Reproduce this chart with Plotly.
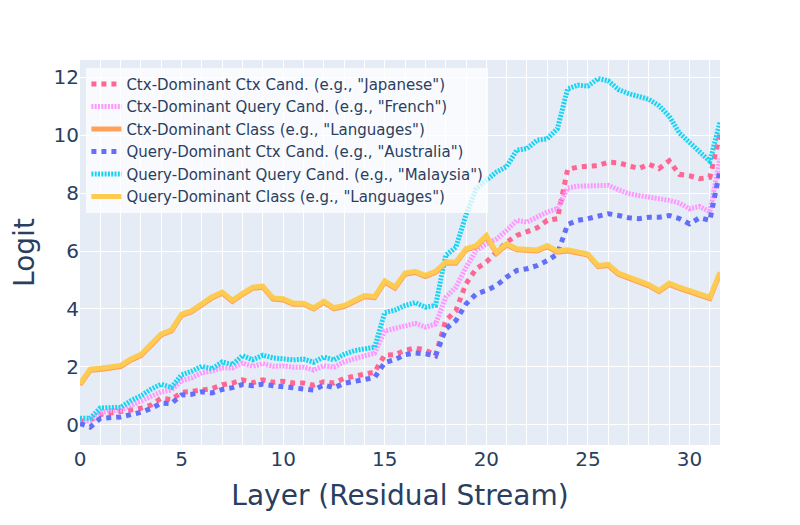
import plotly.graph_objects as go

# Residual stream positions (two per layer)
layers = [i * 0.5 for i in range(64)]

ctx_dom_ctx_cand = [
    0.12, 0.15, 0.35, 0.42, 0.46, 0.51, 0.57, 0.68, 0.92, 0.87,
    1.12, 1.15, 1.21, 1.25, 1.38, 1.44, 1.55, 1.45, 1.55, 1.47,
    1.50, 1.44, 1.44, 1.37, 1.48, 1.44, 1.60, 1.67, 1.71, 1.82,
    2.41, 2.42, 2.57, 2.65, 2.58, 2.39, 3.60, 3.94, 4.87, 5.39,
    5.62, 5.96, 6.31, 6.54, 6.65, 6.80, 7.06, 7.12, 8.82, 8.90,
    8.93, 8.95, 9.07, 9.05, 8.95, 8.85, 9.00, 8.85, 9.12, 8.65,
    8.60, 8.50, 8.55, 10.05,
]
ctx_dom_query_cand = [
    0.12, 0.14, 0.41, 0.49, 0.50, 0.67, 0.81, 0.98, 1.14, 1.20,
    1.52, 1.62, 1.80, 1.85, 1.97, 1.96, 2.13, 2.02, 2.11, 2.02,
    2.03, 1.99, 1.99, 1.89, 2.04, 1.99, 2.17, 2.28, 2.36, 2.47,
    3.24, 3.32, 3.38, 3.50, 3.37, 3.48, 4.40, 4.75, 5.44, 6.02,
    6.25, 6.42, 6.71, 7.06, 7.00, 7.17, 7.35, 7.46, 8.18, 8.24,
    8.24, 8.25, 8.27, 8.12, 7.98, 7.92, 7.87, 7.84, 7.75, 7.66,
    7.46, 7.54, 7.35, 9.20,
]
ctx_dom_class = [
    1.38, 1.88, 1.91, 1.96, 2.01, 2.23, 2.39, 2.75, 3.10, 3.24,
    3.78, 3.90, 4.13, 4.38, 4.54, 4.26, 4.50, 4.71, 4.75, 4.34,
    4.31, 4.16, 4.16, 4.00, 4.23, 4.00, 4.08, 4.25, 4.42, 4.39,
    4.93, 4.72, 5.20, 5.26, 5.12, 5.26, 5.58, 5.58, 6.04, 6.15,
    6.50, 5.92, 6.21, 6.04, 6.00, 6.00, 6.15, 5.96, 6.00, 5.92,
    5.86, 5.46, 5.50, 5.20, 5.08, 4.94, 4.80, 4.60, 4.85, 4.71,
    4.60, 4.48, 4.36, 5.23,
]
query_dom_ctx_cand = [
    0.04, -0.08, 0.22, 0.24, 0.27, 0.35, 0.43, 0.56, 0.75, 0.73,
    1.03, 1.05, 1.14, 1.10, 1.22, 1.28, 1.39, 1.35, 1.40, 1.35,
    1.31, 1.28, 1.26, 1.20, 1.37, 1.28, 1.43, 1.51, 1.58, 1.63,
    2.15, 2.25, 2.42, 2.48, 2.45, 2.38, 3.31, 3.60, 4.17, 4.52,
    4.64, 4.81, 5.10, 5.33, 5.39, 5.50, 5.67, 5.90, 6.92, 7.06,
    7.12, 7.20, 7.29, 7.23, 7.15, 7.12, 7.17, 7.17, 7.23, 7.12,
    6.94, 7.15, 7.06, 8.80,
]
query_dom_query_cand = [
    0.22, 0.22, 0.58, 0.60, 0.60, 0.83, 1.00, 1.23, 1.40, 1.29,
    1.72, 1.85, 2.02, 1.93, 2.17, 2.08, 2.39, 2.24, 2.40, 2.31,
    2.28, 2.24, 2.27, 2.16, 2.34, 2.24, 2.43, 2.56, 2.62, 2.67,
    3.88, 3.96, 4.12, 4.22, 4.06, 4.12, 5.85, 6.13, 7.25, 8.15,
    8.45, 8.73, 8.92, 9.49, 9.54, 9.83, 9.88, 10.23, 11.60, 11.73,
    11.70, 11.96, 11.88, 11.58, 11.44, 11.33, 11.24, 11.02, 10.66, 10.08,
    9.74, 9.42, 9.10, 10.45,
]
query_dom_class = [
    1.42, 1.92, 1.95, 2.00, 2.05, 2.27, 2.43, 2.79, 3.14, 3.28,
    3.82, 3.94, 4.17, 4.42, 4.58, 4.30, 4.54, 4.75, 4.79, 4.38,
    4.35, 4.20, 4.20, 4.04, 4.27, 4.04, 4.12, 4.29, 4.46, 4.43,
    4.97, 4.76, 5.24, 5.30, 5.16, 5.30, 5.62, 5.62, 6.08, 6.19,
    6.54, 5.96, 6.25, 6.08, 6.04, 6.04, 6.19, 6.00, 6.04, 5.96,
    5.90, 5.50, 5.54, 5.24, 5.12, 4.98, 4.84, 4.64, 4.89, 4.75,
    4.64, 4.52, 4.40, 5.27,
]

series = [
    ('Ctx-Dominant Ctx Cand. (e.g., "Japanese")', ctx_dom_ctx_cand, '#FF6692', 'dot'),
    ('Ctx-Dominant Query Cand. (e.g., "French")', ctx_dom_query_cand, '#FF97FF', '2px,1.3px'),
    ('Ctx-Dominant Class (e.g., "Languages")', ctx_dom_class, '#FFA15A', 'solid'),
    ('Query-Dominant Ctx Cand. (e.g., "Australia")', query_dom_ctx_cand, '#636EFA', 'dot'),
    ('Query-Dominant Query Cand. (e.g., "Malaysia")', query_dom_query_cand, '#19D3F3', '2px,1.3px'),
    ('Query-Dominant Class (e.g., "Languages")', query_dom_class, '#FECB52', 'solid'),
]

fig = go.Figure()
for name, vals, color, dash in series:
    fig.add_trace(go.Scatter(
        x=layers, y=vals, mode='lines', name=name,
        line=dict(color=color, width=5, dash=dash)
    ))

# page body adds an 8px offset, so margins are shifted to compensate
fig.update_layout(
    width=800, height=525,
    template='plotly',
    font=dict(family='DejaVu Sans', color='#2a3f5f'),
    margin=dict(l=72, r=88, t=52, b=88),
    xaxis=dict(
        title=dict(text='Layer (Residual Stream)', font=dict(size=28)),
        range=[0, 31.5], dtick=5, tickfont=dict(size=20),
        minor=dict(dtick=1, showgrid=True, gridcolor='white'),
        zeroline=False,
    ),
    yaxis=dict(
        title=dict(text='Logit', font=dict(size=28)),
        range=[-0.7, 12.6], dtick=2, tickfont=dict(size=20),
        zeroline=False,
    ),
    legend=dict(
        x=0.01, y=0.98, xanchor='left', yanchor='top',
        bgcolor='rgba(255,255,255,0.75)',
        font=dict(size=15),
    ),
)

fig.write_html("out.html")
